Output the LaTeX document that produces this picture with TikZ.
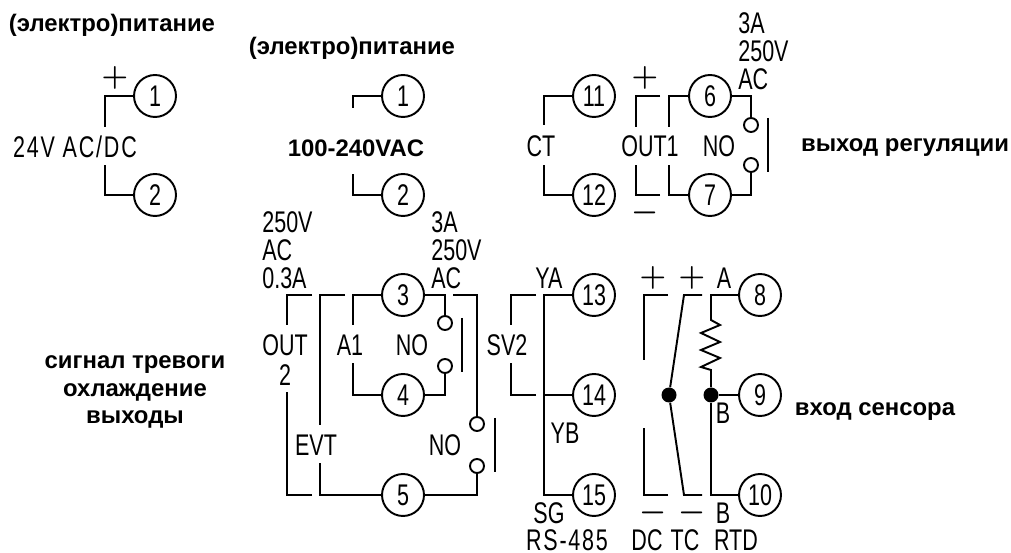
\documentclass[tikz,border=0pt]{standalone}
\usepackage{amsmath}
\usepackage{fontspec}
\setmainfont{Liberation Sans}
\newfontfamily\cadfont[FakeStretch=0.72]{Liberation Sans}
\newfontfamily\cadwide[FakeStretch=0.72, LetterSpace=6]{Liberation Sans}
\usetikzlibrary{calc, positioning}
\tikzset{
  term/.style={circle, draw, line width=1.1pt, minimum size=0.84cm, inner sep=0pt, font=\cadfont\fontsize{17}{15.87}\selectfont},
  wire/.style={line width=1.1pt},
  contact/.style={circle, draw, line width=1.1pt, minimum size=0.28cm, inner sep=0pt},
  joint/.style={circle, fill, minimum size=0.3cm, inner sep=0pt},
  cad/.style={inner sep=0pt, font=\cadfont\fontsize{17}{15.87}\selectfont},
  cadspaced/.style={inner sep=0pt, font=\cadwide\fontsize{17}{15.87}\selectfont},
  sign/.style={inner sep=0pt, font=\fontsize{16}{16}\selectfont},
  caption/.style={inner sep=0pt, align=center, font=\bfseries\fontsize{13.6}{15.87}\selectfont}
}
\begin{document}
\begin{tikzpicture}[x=0.02cm, y=-0.02cm]
  \useasboundingbox (0,0) rectangle (1011,553);

  % Terminals
  \foreach \n/\x/\y/\t in {pa/155/96/1, pb/155/195/2, qa/403/96/1, qb/403/195/2,
    t11/594/96/11, t12/594/195/12, t6/710/96/6, t7/710/195/7,
    t3/403/295/3, t4/403/395/4, t5/403/495/5,
    t13/594/295/13, t14/594/395/14, t15/594/495/15,
    t8/760/295/8, t9/760/395/9, t10/760/495/10} {
    \node[term] (\n) at (\x,\y) {\t};
  }

  % Contacts and joints
  \foreach \n/\x/\y in {k6/751/125, k7/751/165, k3/445/323, k4/445/366, k5a/477/424, k5b/477/466} {
    \node[contact] (\n) at (\x,\y) {};
  }
  \node[joint] (dtc) at (669,395) {};
  \node[joint] (drtd) at (711,395) {};

  % Free wire ends
  \foreach \n/\x/\y in {epa/105/127, epb/105/165, eqa/353/108, eqb/353/174,
    ect/544/125, ecu/544/165, eoa/636/127, eob/636/165, esa/660/96, esb/660/195,
    e6/669/127, e7/669/165, o2a/312/295, o2b/287/325, o2c/287/392, o2d/312/495,
    eva/345/295, evb/320/425, evc/320/463, a1a/353/325, a1b/353/363,
    nca/453/295, sva/536/295, svb/511/325, svc/511/363, svd/536/395,
    dca/668/295, dcb/644/360, dcc/644/428, dcd/668/495,
    tca/702/295, tcb/684/295, tcc/684/495, tcd/702/495, rz/711/320, rq/711/370, bar1/768/118, bar2/768/172,
    bar3/462/318, bar4/462/372, bar5/495/418, bar6/495/472, rm/544/395, rb/544/495} {
    \coordinate (\n) at (\x,\y);
  }

  % Wires with one corner
  \foreach \a/\b in {pa.west/epa, pb.west/epb, qa.west/eqa, qb.west/eqb, t11.west/ect, t12.west/ecu,
    esa/eoa, esb/eob, t6.west/e6, t7.west/e7, t6.east/k6.north, t7.east/k7.south,
    t3.west/a1a, t4.west/a1b, t3.east/k3.north, t4.east/k4.south, t5.west/evc,
    t5.east/k5b.south, nca/k5a.north, o2a/o2b, o2d/o2c, eva/evb, sva/svb, svd/svc,
    dca/dcb, dcd/dcc} {
    \draw[wire] (\a) -| (\b);
  }

  % Switch bars
  \draw[wire] (bar1) -- (bar2);
  \draw[wire] (bar3) -- (bar4);
  \draw[wire] (bar5) -- (bar6);

  % RS-485 rail
  \draw[wire] (t13.west) -| (rb) -- (t15.west);
  \draw[wire] (t14.west) -- (rm);

  % Thermocouple
  \draw[wire] (tca) -- (tcb) -- (dtc) -- (tcc) -- (tcd);

  % RTD with resistor
  \draw[wire] (t8.west) -| (rz) -- ++(9,5) -- ++(-19,8) -- ++(19,9) -- ++(-19,8) -- ++(19,8) -- ++(-19,9) -- (rq) -- (drtd);
  \draw[wire] (t9.west) -- (drtd);
  \draw[wire] (drtd) |- (t10.west);

  % Technical labels
  \node[cadspaced] (l24) at (75,147) {24V AC/DC};
  \node[cadspaced] (lrs) at (567,540) {RS-485};
  \foreach \n/\x/\y/\t in {lct/541/146/CT, lout/650/146/OUT1, lno/719/146/NO,
    lo2/285/345/OUT, lo2b/285/375/2, lev/316/445/EVT, la1/350/345/A1, lnoa/412/345/NO, lnob/445/445/NO,
    lsv/507/345/SV2, lya/549/278/YA, lyb/565/433/YB, lsg/549/513/SG,
    ldc/647/540/DC, ltc/685/540/TC, lrtd/736/540/RTD, lra/724/278/A, lrb/723/413/B, lrc/723/513/B} {
    \node[cad] (\n) at (\x,\y) {\t};
  }
  \node[cad, anchor=west, align=left] (r6) at (738,51) {3A\\250V\\AC};
  \node[cad, anchor=west, align=left] (r2) at (262,250) {250V\\AC\\0.3A};
  \node[cad, anchor=west, align=left] (r3) at (431,250) {3A\\250V\\AC};

  % Polarity signs
  \foreach \n/\x/\y/\t in {s1/115/78/+, s2/645/78/+, s3/653/278/+, s4/692/278/+,
    s5/645/213/-, s6/653/513/-, s7/692/513/-} {
    \node[sign] (\n) at (\x,\y) {$\boldsymbol{\t}$};
  }

  % Captions
  \node[caption] (c1) at (112,25) {(электро)питание};
  \node[caption] (c2) at (352,48) {(электро)питание};
  \node[caption] (c3) at (356,148) {100-240VAC};
  \node[caption] (c4) at (905,148) {выход регуляции};
  \node[caption] (c5) at (135,392) {сигнал тревоги\\охлаждение\\выходы};
  \node[caption] (c6) at (875,412) {вход сенсора};
\end{tikzpicture}
\end{document}
